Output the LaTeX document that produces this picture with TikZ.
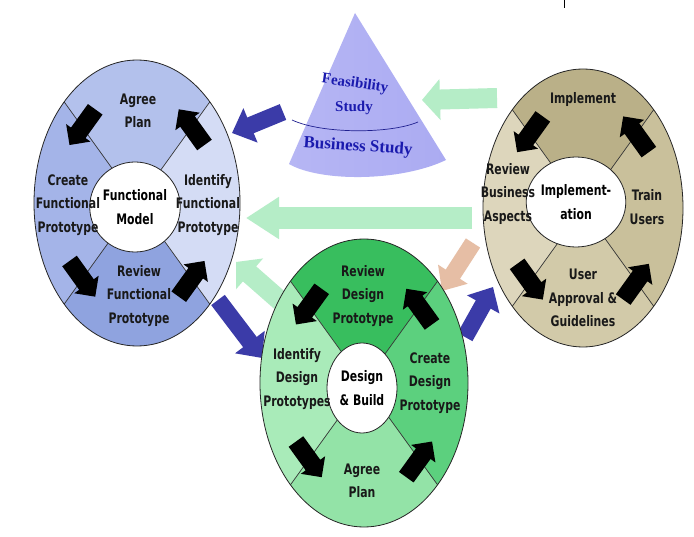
\documentclass[tikz,border=0pt]{standalone}
\usepackage{fontspec}
\setmainfont{DejaVu Sans}
\newfontfamily\stepfont{DejaVu Sans}[FakeStretch=0.75]
\newfontfamily\conefont{Liberation Serif}
\usetikzlibrary{arrows.meta,shapes.geometric}
\definecolor{fmtop}{HTML}{B3C1EC}
\definecolor{fmleft}{HTML}{A4B4E8}
\definecolor{fmbot}{HTML}{8FA3DF}
\definecolor{fmright}{HTML}{D4DCF5}
\definecolor{dbtop}{HTML}{38BE5E}
\definecolor{dbleft}{HTML}{A9EBB9}
\definecolor{dbbot}{HTML}{93E3A7}
\definecolor{dbright}{HTML}{5CD07E}
\definecolor{imtop}{HTML}{BAB088}
\definecolor{imleft}{HTML}{DDD6BC}
\definecolor{imbot}{HTML}{D2CAA9}
\definecolor{imright}{HTML}{C9C09B}
\definecolor{navyarrow}{HTML}{3B3BA8}
\definecolor{mintarrow}{HTML}{B5EDC7}
\definecolor{tanarrowcol}{HTML}{E6BEA5}
\definecolor{conetext}{HTML}{1A1AAE}
\definecolor{coneline}{HTML}{202090}
\definecolor{coneleft}{HTML}{B6B6F4}
\definecolor{conemid}{HTML}{8A8AEE}
\definecolor{coneright}{HTML}{ABABF2}
\tikzset{
  rimline/.style={draw=black!85, line width=0.8pt},
  divline/.style={draw=black!80, line width=0.7pt},
  hub/.style={ellipse, draw=black!85, line width=0.8pt, fill=white, inner sep=0pt,
    font=\stepfont\bfseries\fontsize{14.5}{24}\selectfont, align=center},
  steplabel/.style={font=\stepfont\bfseries\fontsize{14.5}{23.5}\selectfont, align=center, text=black!90, inner sep=0pt},
  conelabel/.style={font=\conefont\bfseries, text=conetext, inner sep=0pt},
  navyconn/.style={draw=navyarrow, line width=17pt, -{Triangle[width=36pt,length=20pt]}},
  mintconn/.style={draw=mintarrow, line width=20pt, -{Triangle[width=40pt,length=18pt]}},
  longmint/.style={draw=mintarrow, line width=22pt, -{Triangle[width=40pt,length=33pt]}},
  tanconn/.style={draw=tanarrowcol, line width=17pt, -{Triangle[width=34pt,length=20pt]}},
}
% wheel: cx cy rx ry top left bottom right
\newcommand\dsdmwheel[8]{%
  \begin{scope}[shift={(#1,#2)}]
    \begin{scope}
      \clip (0,0) ellipse [x radius=#3pt, y radius=#4pt];
      \fill[#5] (0,0) -- (-2*#3,-2*#4) -- (2*#3,-2*#4) -- cycle;
      \fill[#6] (0,0) -- (-2*#3,-2*#4) -- (-2*#3,2*#4) -- cycle;
      \fill[#7] (0,0) -- (-2*#3,2*#4) -- (2*#3,2*#4) -- cycle;
      \fill[#8] (0,0) -- (2*#3,2*#4) -- (2*#3,-2*#4) -- cycle;
      \draw[divline] (-#3,-#4) -- (#3,#4) (-#3,#4) -- (#3,-#4);
    \end{scope}
    \draw[rimline] (0,0) ellipse [x radius=#3pt, y radius=#4pt];
  \end{scope}}
% block arrow on a wheel: cx cy rx ry angle
\newcommand\dsdmblock[5]{%
  \pgfmathsetmacro\bax{#1+0.75*#3*cos(#5)}%
  \pgfmathsetmacro\bay{#2-0.75*#4*sin(#5)}%
  \pgfmathsetmacro\bth{atan2(#4*cos(#5),-#3*sin(#5))}%
  \begin{scope}[shift={(\bax,\bay)}, rotate=\bth]
    \fill[black] (-22,-9) -- (7,-9) -- (7,-15) -- (22,0) -- (7,15) -- (7,9) -- (-22,9) -- cycle;
  \end{scope}}
\begin{document}
\begin{tikzpicture}[x=1pt,y=-1pt]
\useasboundingbox[fill=white] (0,0) rectangle (694,537);
\draw[black, line width=0.6pt] (564,0) -- (564,8);

% connectors
\coordinate (c1a) at (283,112); \coordinate (c1b) at (232,133);
\coordinate (c2a) at (497,98);  \coordinate (c2b) at (422,100);
\coordinate (c3a) at (472,218); \coordinate (c3b) at (246,218);
\coordinate (c4a) at (285,305); \coordinate (c4b) at (236,262);
\coordinate (c5a) at (218,300); \coordinate (c5b) at (262,358);
\coordinate (c6a) at (473,243); \coordinate (c6b) at (442,291);
\coordinate (c7a) at (465,337); \coordinate (c7b) at (493,287);
\draw[navyconn] (c1a) -- (c1b);
\draw[mintconn] (c2a) -- (c2b);
\draw[longmint] (c3a) -- (c3b);
\draw[mintconn] (c4a) -- (c4b);
\draw[navyconn] (c5a) -- (c5b);
\draw[tanconn] (c6a) -- (c6b);
\draw[navyconn] (c7a) -- (c7b);

% cone
\shade[left color=coneleft, middle color=conemid, right color=coneright]
  (355,13) -- (289,164) .. controls (320,182) and (400,182) .. (446,160) -- cycle;
\draw[coneline, line width=0.7pt] (292,120) .. controls (322,134) and (390,134) .. (418,122);
\node[conelabel, font=\conefont\bfseries\fontsize{15}{18}\selectfont, rotate=-8] (feas) at (355,84) {Feasibility};
\node[conelabel, font=\conefont\bfseries\fontsize{15}{18}\selectfont] (study) at (354,108) {Study};
\node[conelabel, font=\conefont\bfseries\fontsize{17}{20}\selectfont, rotate=-4] (bus) at (358,147) {Business Study};

% functional model wheel
\dsdmwheel{137}{203}{103}{143}{fmtop}{fmleft}{fmbot}{fmright}
\foreach \a in {45,135,225,315} {\dsdmblock{137}{203}{103}{143}{\a}}
\node[hub, minimum width=64pt, minimum height=90pt] (fm) at (135,207) {Functional\\Model};
\node[steplabel] (fmagree) at (138,111) {Agree\\Plan};
\node[steplabel] (fmcreate) at (68,205) {Create\\Functional\\Prototype};
\node[steplabel] (fmident) at (208,205) {Identify\\Functional\\Prototype};
\node[steplabel] (fmreview) at (139,296) {Review\\Functional\\Prototype};

% design and build wheel
\dsdmwheel{364}{383}{104}{144}{dbtop}{dbleft}{dbbot}{dbright}
\foreach \a in {45,135,225,315} {\dsdmblock{364}{383}{104}{144}{\a}}
\node[hub, minimum width=70pt, minimum height=90pt] (db) at (362,388) {Design\\\& Build};
\node[steplabel] (dbreview) at (363,296) {Review\\Design\\Prototype};
\node[steplabel] (dbident) at (297,379) {Identify\\Design\\Prototypes};
\node[steplabel] (dbcreate) at (430,383) {Create\\Design\\Prototype};
\node[steplabel] (dbagree) at (362,481) {Agree\\Plan};

% implementation wheel
\dsdmwheel{583}{208}{100}{139}{imtop}{imleft}{imbot}{imright}
\foreach \a in {45,135,225,315} {\dsdmblock{583}{208}{100}{139}{\a}}
\node[hub, minimum width=68pt, minimum height=90pt] (im) at (576,202) {Implement-\\ation};
\node[steplabel] (imimpl) at (583,100) {Implement};
\node[steplabel] (imreview) at (508,194) {Review\\Business\\Aspects};
\node[steplabel] (imtrain) at (647,207) {Train\\Users};
\node[steplabel] (imuser) at (583,298) {User\\Approval \&\\Guidelines};
\end{tikzpicture}
\end{document}
